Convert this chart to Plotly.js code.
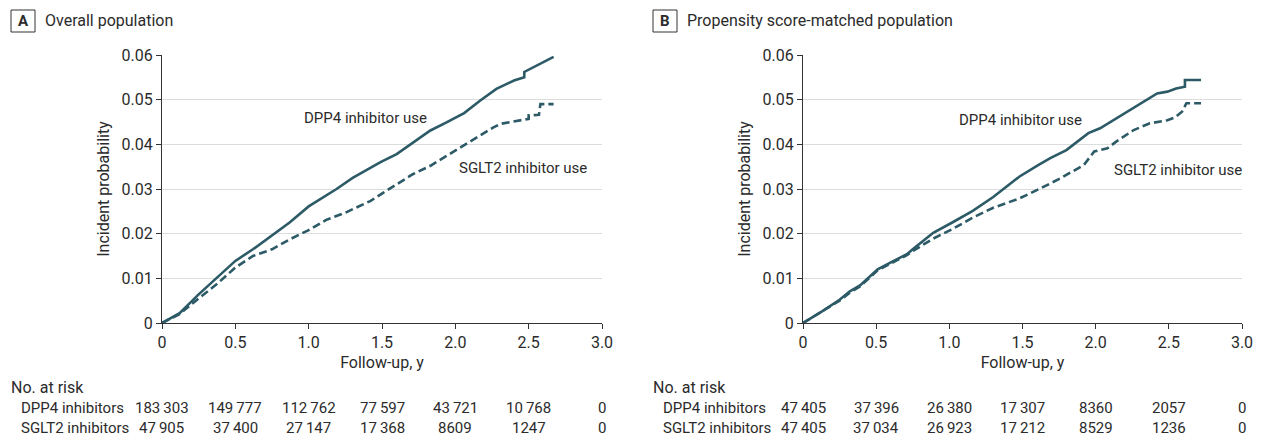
<!DOCTYPE html>
<html>
<head>
<meta charset="utf-8">
<script src="https://cdn.plot.ly/plotly-3.0.1.min.js"></script>
<style>html,body{margin:0;padding:0;background:#fff;}#chart{width:1262px;height:438px;}</style>
</head>
<body>
<div id="chart"></div>
<script>
// ---- Data ----
const xTickVals = [0, 0.5, 1.0, 1.5, 2.0, 2.5, 3.0];
const xTickText = ['0', '0.5', '1.0', '1.5', '2.0', '2.5', '3.0'];
const yTickVals = [0, 0.01, 0.02, 0.03, 0.04, 0.05, 0.06];
const yTickText = ['0', '0.01', '0.02', '0.03', '0.04', '0.05', '0.06'];

const A_DPP4_t = [0, 0.12, 0.25, 0.37, 0.5, 0.62, 0.75, 0.87, 1.0, 1.19, 1.3, 1.49, 1.6, 1.75, 1.83, 1.94, 2.06, 2.17, 2.28, 2.40, 2.47, 2.47, 2.56, 2.63, 2.67];
const A_DPP4_p = [0, 0.0022, 0.0064, 0.0101, 0.0139, 0.0165, 0.0196, 0.0225, 0.0261, 0.0300, 0.0325, 0.0360, 0.0378, 0.0412, 0.0431, 0.0449, 0.0470, 0.0498, 0.0524, 0.0543, 0.0550, 0.0562, 0.0577, 0.0588, 0.0596];
const A_SGLT2_t = [0, 0.12, 0.25, 0.37, 0.5, 0.62, 0.75, 0.87, 1.0, 1.12, 1.25, 1.42, 1.51, 1.71, 1.83, 1.94, 2.06, 2.17, 2.26, 2.31, 2.42, 2.50, 2.50, 2.57, 2.58, 2.67];
const A_SGLT2_p = [0, 0.0020, 0.0055, 0.0086, 0.0124, 0.0150, 0.0165, 0.0187, 0.0208, 0.0231, 0.0247, 0.0273, 0.0292, 0.0333, 0.0352, 0.0374, 0.0397, 0.0419, 0.0438, 0.0446, 0.0453, 0.0457, 0.0465, 0.0466, 0.0490, 0.0490];

const B_DPP4_t = [0, 0.13, 0.25, 0.32, 0.39, 0.51, 0.62, 0.71, 0.75, 0.89, 1.02, 1.16, 1.3, 1.48, 1.61, 1.69, 1.80, 1.95, 2.03, 2.14, 2.26, 2.33, 2.42, 2.49, 2.55, 2.61, 2.61, 2.72];
const B_DPP4_p = [0, 0.0026, 0.0052, 0.0071, 0.0084, 0.0120, 0.0139, 0.0154, 0.0165, 0.0202, 0.0225, 0.0251, 0.0282, 0.0328, 0.0354, 0.0369, 0.0387, 0.0425, 0.0436, 0.0458, 0.0481, 0.0496, 0.0514, 0.0518, 0.0525, 0.0529, 0.0544, 0.0544];
const B_SGLT2_t = [0, 0.13, 0.25, 0.32, 0.39, 0.51, 0.62, 0.71, 0.75, 0.89, 1.02, 1.16, 1.3, 1.48, 1.62, 1.76, 1.92, 1.99, 2.08, 2.14, 2.26, 2.37, 2.49, 2.54, 2.59, 2.62, 2.72];
const B_SGLT2_p = [0, 0.0025, 0.0050, 0.0068, 0.0082, 0.0118, 0.0137, 0.0152, 0.0161, 0.0189, 0.0210, 0.0236, 0.0258, 0.0279, 0.0301, 0.0324, 0.0354, 0.0384, 0.0391, 0.0406, 0.0432, 0.0447, 0.0454, 0.0460, 0.0473, 0.0492, 0.0492];

const riskTimes = [0, 0.5, 1.0, 1.5, 2.0, 2.5, 3.0];
const A_risk_DPP4 = [183303, 149777, 112762, 77597, 43721, 10768, 0];
const A_risk_SGLT2 = [47905, 37400, 27147, 17368, 8609, 1247, 0];
const B_risk_DPP4 = [47405, 37396, 26380, 17307, 8360, 2057, 0];
const B_risk_SGLT2 = [47405, 37034, 26923, 17212, 8529, 1236, 0];

const panelTitles = ['Overall population', 'Propensity score-matched population'];
const panelLetters = ['A', 'B'];
const seriesLabels = ['DPP4 inhibitor use', 'SGLT2 inhibitor use'];
const rowLabels = ['DPP4 inhibitors', 'SGLT2 inhibitors'];

// ---- Styling ----
const W = 1262, H = 438;
const FONT = 'Roboto, "Liberation Sans", sans-serif';
const FS = 16;
const TXT = '#2b2b2b';
const LINE = '#2c5a66';
const px = x => x / W;
const py = y => 1 - y / H;

function fmt(n) {
  const s = String(n);
  if (s.length < 5) return s;
  return s.slice(0, s.length - 3) + '\u2009' + s.slice(s.length - 3);
}

const traces = [
  {x: A_DPP4_t, y: A_DPP4_p, xaxis: 'x', yaxis: 'y', mode: 'lines', line: {color: LINE, width: 2.6}, hoverinfo: 'skip'},
  {x: A_SGLT2_t, y: A_SGLT2_p, xaxis: 'x', yaxis: 'y', mode: 'lines', line: {color: LINE, width: 2.6, dash: '8px,4px'}, hoverinfo: 'skip'},
  {x: B_DPP4_t, y: B_DPP4_p, xaxis: 'x2', yaxis: 'y2', mode: 'lines', line: {color: LINE, width: 2.6}, hoverinfo: 'skip'},
  {x: B_SGLT2_t, y: B_SGLT2_p, xaxis: 'x2', yaxis: 'y2', mode: 'lines', line: {color: LINE, width: 2.6, dash: '8px,4px'}, hoverinfo: 'skip'}
];

const yDom = [1 - 323 / H, 1 - 55 / H];
function xAxis(dom) {
  return {
    domain: dom, range: [0, 3], tickvals: xTickVals, ticktext: xTickText,
    showline: true, linecolor: '#333', linewidth: 1, ticks: 'outside', ticklen: 5, tickcolor: '#333',
    showgrid: false, zeroline: false, fixedrange: true,
    tickfont: {family: FONT, size: FS, color: TXT},
    title: {text: 'Follow-up, y', font: {family: FONT, size: FS, color: TXT}, standoff: 5}
  };
}
function yAxis(anchor) {
  return {
    domain: yDom, range: [0, 0.06], tickvals: yTickVals, ticktext: yTickText, anchor: anchor,
    showline: true, linecolor: '#333', linewidth: 1, ticks: 'outside', ticklen: 5, tickcolor: '#333',
    showgrid: true, gridcolor: '#dcdcdc', gridwidth: 1, zeroline: false, fixedrange: true,
    tickfont: {family: FONT, size: FS, color: TXT},
    title: {text: 'Incident probability', font: {family: FONT, size: FS, color: TXT}, standoff: 7}
  };
}

const annotations = [];
const shapes = [];
const panels = [
  {xref: 'x', boxX: 11, risk: [A_risk_DPP4, A_risk_SGLT2], lab: [[365, 118], [523, 168]]},
  {xref: 'x2', boxX: 653, risk: [B_risk_DPP4, B_risk_SGLT2], lab: [[1020, 120], [1178, 170]]}
];
panels.forEach((p, i) => {
  shapes.push({type: 'rect', xref: 'paper', yref: 'paper', x0: px(p.boxX), x1: px(p.boxX + 24), y0: py(32), y1: py(10), line: {color: '#333', width: 1}});
  annotations.push({xref: 'paper', yref: 'paper', x: px(p.boxX + 12), y: py(21), text: '<b>' + panelLetters[i] + '</b>', showarrow: false, xanchor: 'center', yanchor: 'middle', font: {family: FONT, size: 15, color: TXT}});
  annotations.push({xref: 'paper', yref: 'paper', x: px(p.boxX + 32), y: py(21), text: panelTitles[i], showarrow: false, xanchor: 'left', yanchor: 'middle', font: {family: FONT, size: 16, color: TXT}});
  seriesLabels.forEach((s, k) => {
    annotations.push({xref: 'paper', yref: 'paper', x: px(p.lab[k][0]), y: py(p.lab[k][1]), text: s, showarrow: false, xanchor: 'center', yanchor: 'middle', font: {family: FONT, size: 15, color: TXT}});
  });
  annotations.push({xref: 'paper', yref: 'paper', x: px(p.boxX - 2), y: py(387), text: 'No. at risk', showarrow: false, xanchor: 'left', yanchor: 'middle', font: {family: FONT, size: FS, color: TXT}});
  const rowY = [408, 428];
  rowLabels.forEach((r, k) => {
    annotations.push({xref: 'paper', yref: 'paper', x: px(p.boxX + 8), y: py(rowY[k]), text: r, showarrow: false, xanchor: 'left', yanchor: 'middle', font: {family: FONT, size: 15, color: TXT}});
    p.risk[k].forEach((v, j) => {
      annotations.push({xref: p.xref, yref: 'paper', x: riskTimes[j], y: py(rowY[k]), text: fmt(v), showarrow: false, xanchor: 'center', yanchor: 'middle', font: {family: FONT, size: 15, color: TXT}});
    });
  });
});

const layout = {
  width: W, height: H, margin: {l: 0, r: 0, t: 0, b: 0},
  paper_bgcolor: '#fff', plot_bgcolor: '#fff', showlegend: false,
  xaxis: xAxis([px(162), px(602)]),
  yaxis: yAxis('x'),
  xaxis2: xAxis([px(803), px(1242)]),
  yaxis2: yAxis('x2'),
  annotations: annotations, shapes: shapes
};
layout.xaxis.anchor = 'y';
layout.xaxis2.anchor = 'y2';

Plotly.newPlot('chart', traces, layout, {displayModeBar: false, staticPlot: true});
</script>
</body>
</html>
